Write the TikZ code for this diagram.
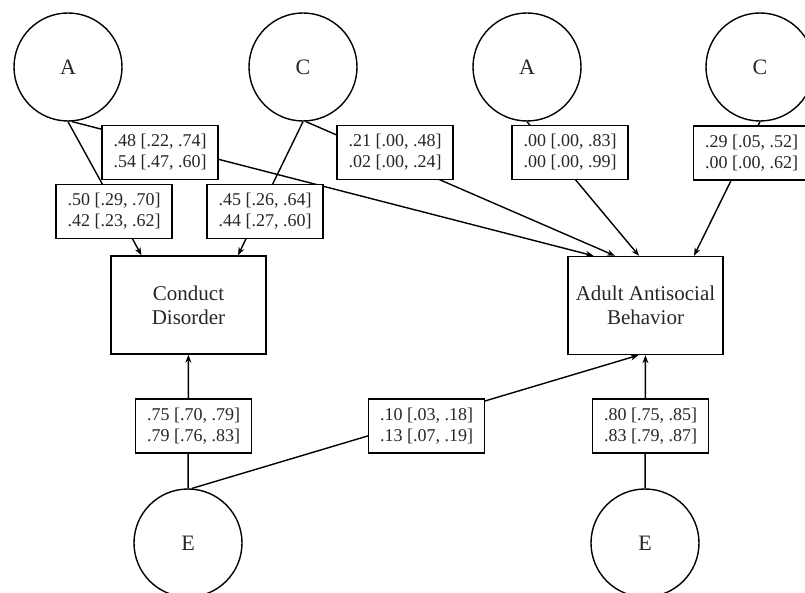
\documentclass[tikz,border=0pt]{standalone}
\usepackage{fontspec}
\setmainfont{Liberation Serif}
\usetikzlibrary{arrows.meta}

\begin{document}
\begin{tikzpicture}[
	x=1pt, y=-1pt,
	line width=1.4pt,
	every node/.style={text=black!85},
	latentnode/.style={circle, draw, minimum size=108pt, inner sep=0pt, font=\fontsize{22}{26}\selectfont},
	traitnode/.style={rectangle, draw, minimum width=155pt, minimum height=98pt, align=center, font=\fontsize{21}{24}\selectfont},
	estnode/.style={rectangle, draw, fill=white, line width=1.2pt, minimum width=116pt, minimum height=54pt, inner sep=0pt, align=center, font=\fontsize{18}{21}\selectfont},
	path/.style={-{Stealth[length=8pt, width=6pt]}},
	]
	\useasboundingbox (0,0) rectangle (805,593);
	%Nodes
	\node[latentnode] (aCD) at (68,67)   {A};
	\node[latentnode] (cCD) at (303,67)  {C};
	\node[latentnode] (aAB) at (527,67)  {A};
	\node[latentnode] (cAB) at (760,67)  {C};
	\node[latentnode] (eCD) at (188,543) {E};
	\node[latentnode] (eAB) at (645,543) {E};
	\node[traitnode]  (cd)  at (188.5,305) {Conduct\\Disorder};
	\node[traitnode]  (aab) at (645.5,305.5) {Adult Antisocial\\Behavior};

	%Lines
	\draw[path] (aCD.south) -- ([xshift=-47pt]cd.north);
	\draw[path] (aCD.-86)   -- ([xshift=-52pt]aab.north);
	\draw[path] (cCD.south) -- ([xshift=49.5pt]cd.north);
	\draw[path] (cCD.-87)   -- ([xshift=-30.5pt]aab.north);
	\draw[path] (aAB.south) -- ([xshift=-6.5pt]aab.north);
	\draw[path] (cAB.south) -- ([xshift=48.5pt]aab.north);
	\draw[path] (eCD) -- (cd);
	\draw[path] (eCD.86)    -- ([xshift=-7pt]aab.south);
	\draw[path] (eAB) -- (aab);

	%Estimates
	\node[estnode] (aCDab) at (160,152.5) {.48 [.22, .74]\\.54 [.47, .60]};
	\node[estnode] (aCDcd) at (114,211.5) {.50 [.29, .70]\\.42 [.23, .62]};
	\node[estnode] (cCDcd) at (265,211.5) {.45 [.26, .64]\\.44 [.27, .60]};
	\node[estnode] (cCDab) at (395,152.5) {.21 [.00, .48]\\.02 [.00, .24]};
	\node[estnode] (aABab) at (570,152.5) {.00 [.00, .83]\\.00 [.00, .99]};
	\node[estnode] (cABab) at (751.5,153) {.29 [.05, .52]\\.00 [.00, .62]};
	\node[estnode] (eCDcd) at (193.5,426) {.75 [.70, .79]\\.79 [.76, .83]};
	\node[estnode] (eCDab) at (426.5,426) {.10 [.03, .18]\\.13 [.07, .19]};
	\node[estnode] (eABab) at (650.5,426) {.80 [.75, .85]\\.83 [.79, .87]};
\end{tikzpicture}
\end{document}
